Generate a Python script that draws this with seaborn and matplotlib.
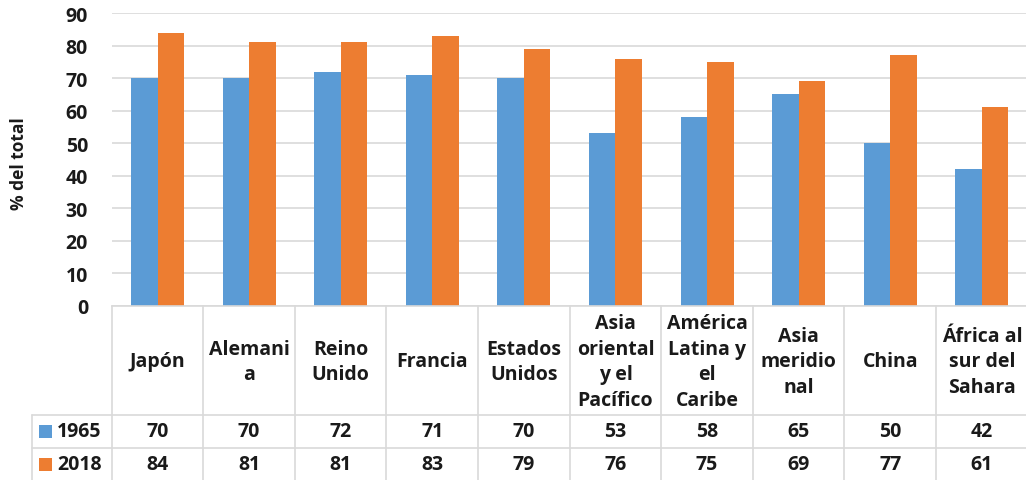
import matplotlib
matplotlib.use("Agg")
import matplotlib.pyplot as plt
from matplotlib.lines import Line2D
from matplotlib.patches import Rectangle
import matplotlib.transforms as mtransforms
import seaborn as sns
import pandas as pd

# Data
regions = ["Japón", "Alemani\na", "Reino\nUnido", "Francia", "Estados\nUnidos",
           "Asia\noriental\ny el\nPacífico", "América\nLatina y\nel\nCaribe",
           "Asia\nmeridio\nnal", "China", "África al\nsur del\nSahara"]
years = ["1965", "2018"]
vals_1965 = [70, 70, 72, 71, 70, 53, 58, 65, 50, 42]
vals_2018 = [84, 81, 81, 83, 79, 76, 75, 69, 77, 61]
colors = ["#5B9BD5", "#ED7D31"]

df = pd.DataFrame({
    "region": regions * 2,
    "year": [years[0]] * len(regions) + [years[1]] * len(regions),
    "value": vals_1965 + vals_2018,
})

sns.set_theme(style="white")
plt.rcParams["font.family"] = ["Open Sans", "DejaVu Sans"]
plt.rcParams["font.weight"] = "bold"

W, H = 1026, 481
fig = plt.figure(figsize=(W / 100, H / 100), dpi=100)

# plot-area geometry (pixels)
x0, y_top, y_zero = 111.7, 14.0, 307.0
col_w = 91.6
ax = fig.add_axes([x0 / W, (H - y_zero) / H, col_w * len(regions) / W, (y_zero - y_top) / H])

sns.barplot(data=df, x="region", y="value", hue="year", palette=colors,
            width=0.58, gap=0, linewidth=0, saturation=1, ax=ax, legend=False)

FS = 14
ax.set_ylim(0, 90)
ax.set_xlim(-0.5, len(regions) - 0.5)
ax.set_yticks(range(0, 91, 10))
ax.yaxis.grid(True, color="#d9d9d9", linewidth=1.2)
ax.set_axisbelow(True)
for s in ["left", "right", "top"]:
    ax.spines[s].set_visible(False)
ax.spines["bottom"].set_color("#d9d9d9")
ax.spines["bottom"].set_linewidth(1.2)
ax.tick_params(axis="y", length=0, pad=17, labelsize=FS, labelcolor="#1a1a1a")
ax.tick_params(axis="x", length=0, labelbottom=False)
for lab in ax.get_yticklabels():
    lab.set_fontweight("bold")
ax.set_xlabel("")
ax.set_ylabel("")
fig.text(19.5 / W, (H - 164) / H, "% del total", rotation=90, ha="center", va="center",
         fontsize=12.5, fontweight="bold", color="#1a1a1a")

# data table below the bars
ph = y_zero - y_top
def afrac(py):
    return -(py - y_zero) / ph

trans = mtransforms.blended_transform_factory(ax.transData, ax.transAxes)
line_kw = dict(color="#d9d9d9", linewidth=1.2, clip_on=False)
y_hdr, y_r1, y_bot = 416.0, 449.0, 482.0

for i in range(len(regions) + 1):
    ax.add_line(Line2D([i - 0.5, i - 0.5], [0, afrac(y_bot)], transform=trans, **line_kw))

# horizontal rules spanning the legend column too
fig.add_artist(Line2D([31.7 / W, 1.0], [(H - y_hdr) / H] * 2, transform=fig.transFigure,
                      color="#d9d9d9", linewidth=1.2))
fig.add_artist(Line2D([31.7 / W, 1.0], [(H - y_r1) / H] * 2, transform=fig.transFigure,
                      color="#d9d9d9", linewidth=1.2))
fig.add_artist(Line2D([31.7 / W] * 2, [(H - y_hdr) / H, 0], transform=fig.transFigure,
                      color="#d9d9d9", linewidth=1.2))

txt_kw = dict(ha="center", va="center", fontsize=FS, fontweight="bold",
              color="#1a1a1a", transform=trans, clip_on=False)
for i, name in enumerate(regions):
    ax.text(i, afrac((y_zero + y_hdr) / 2 + 1), name, linespacing=1.36, **txt_kw)
    ax.text(i, afrac((y_hdr + y_r1) / 2), str(vals_1965[i]), **txt_kw)
    ax.text(i, afrac((y_r1 + y_bot) / 2), str(vals_2018[i]), **txt_kw)

# legend keys in the first column
for yr, col, (ra, rb) in zip(years, colors, [(y_hdr, y_r1), (y_r1, y_bot)]):
    cy = (ra + rb) / 2
    fig.add_artist(Rectangle((39 / W, (H - cy - 6.5) / H), 13 / W, 13 / H,
                             transform=fig.transFigure, facecolor=col, edgecolor="none"))
    fig.text(57 / W, (H - cy) / H, yr, ha="left", va="center", fontsize=FS,
             fontweight="bold", color="#1a1a1a")

fig.savefig("out.png", dpi=100)
